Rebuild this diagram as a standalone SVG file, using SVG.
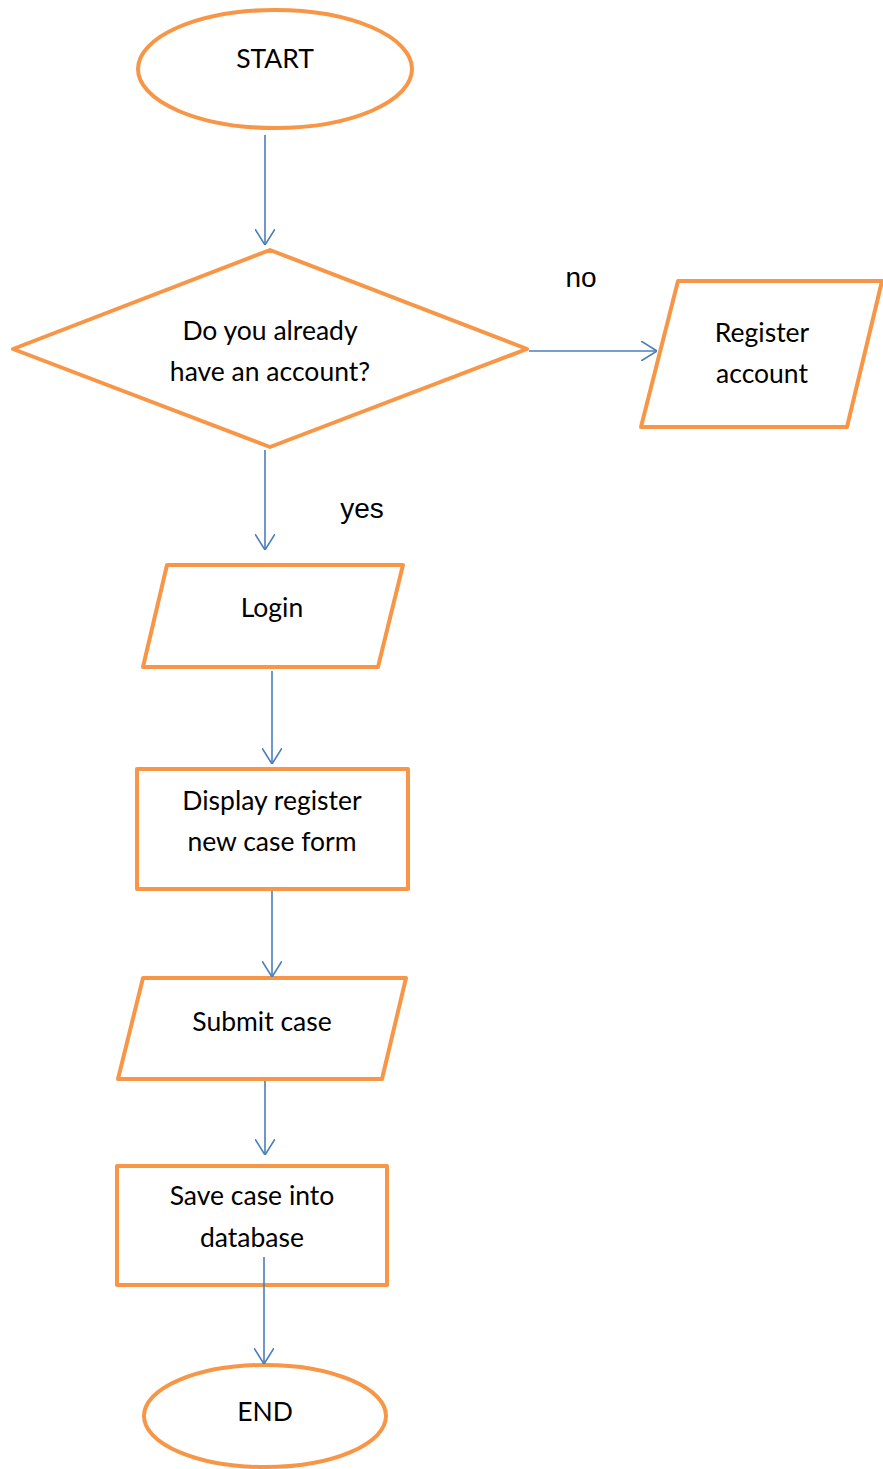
<svg xmlns="http://www.w3.org/2000/svg" width="883" height="1469" viewBox="0 0 883 1469">
<style>
.shape{fill:#fff;stroke:#f79646;stroke-width:4;stroke-linejoin:round}
.conn{stroke:#4a7ebb;stroke-width:1.6;fill:none}
.t{font-family:Lato,"Open Sans",sans-serif;font-size:26.5px;fill:#000;text-anchor:middle}
.lbl{font-family:"Liberation Sans",Arial,sans-serif;font-size:28px;fill:#000;text-anchor:middle}
</style>
<defs>
<marker id="arr" viewBox="0 0 16 20" refX="16" refY="10" markerWidth="16" markerHeight="20" markerUnits="userSpaceOnUse" orient="auto">
<path d="M0,0 L16,10 L0,20" fill="none" stroke="#4a7ebb" stroke-width="1.6"/>
</marker>
</defs>
<g id="start">
<ellipse class="shape" cx="275" cy="69" rx="137" ry="59"/>
<text class="t" x="275" y="68">START</text>
</g>
<g id="decision">
<polygon class="shape" points="270,250 527,349 270,447 13,349"/>
<text class="t" x="270" y="340">Do you already</text>
<text class="t" x="270" y="381">have an account?</text>
</g>
<g id="register">
<polygon class="shape" points="678,281 882,281 847,427 641,427"/>
<text class="t" x="762" y="342">Register</text>
<text class="t" x="762" y="383">account</text>
</g>
<g id="login">
<polygon class="shape" points="167,565 403,565 378,667 143,667"/>
<text class="t" x="272" y="617">Login</text>
</g>
<g id="display">
<rect class="shape" x="137" y="769" width="271" height="120"/>
<text class="t" x="272" y="810">Display register</text>
<text class="t" x="272" y="851">new case form</text>
</g>
<g id="submit">
<polygon class="shape" points="143,978 406,978 382,1079 118,1079"/>
<text class="t" x="262" y="1031">Submit case</text>
</g>
<g id="save">
<rect class="shape" x="117" y="1166" width="270" height="119"/>
<text class="t" x="252" y="1205">Save case into</text>
<text class="t" x="252" y="1247">database</text>
</g>
<g id="end">
<ellipse class="shape" cx="265" cy="1416" rx="121" ry="51"/>
<text class="t" x="265" y="1421">END</text>
</g>
<g id="connectors">
<line class="conn" x1="265" y1="135" x2="265" y2="245" marker-end="url(#arr)"/>
<line class="conn" x1="529" y1="351" x2="657" y2="351" marker-end="url(#arr)"/>
<line class="conn" x1="265" y1="450" x2="265" y2="550" marker-end="url(#arr)"/>
<line class="conn" x1="272" y1="671" x2="272" y2="764" marker-end="url(#arr)"/>
<line class="conn" x1="272" y1="891" x2="272" y2="977" marker-end="url(#arr)"/>
<line class="conn" x1="265" y1="1081" x2="265" y2="1155" marker-end="url(#arr)"/>
<line class="conn" x1="264" y1="1257" x2="264" y2="1364" marker-end="url(#arr)"/>
<text class="lbl" x="581" y="287">no</text>
<text class="lbl" x="362" y="518">yes</text>
</g>
</svg>
